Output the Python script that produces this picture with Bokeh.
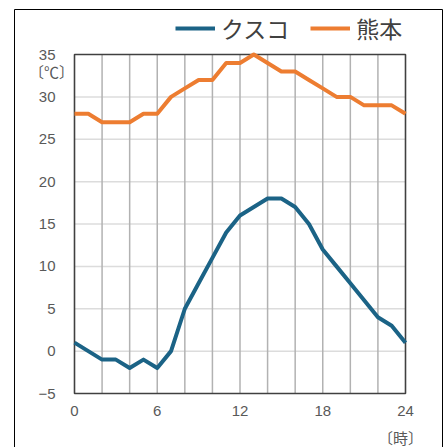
from bokeh.plotting import figure
from bokeh.models import Range1d, FixedTicker, Legend, LegendItem, Label
from bokeh.embed import file_html
from bokeh.resources import INLINE

# ---- data ----
hours = list(range(25))
cusco = [1, 0, -1, -1, -2, -1, -2, 0, 5, 8, 11, 14, 16, 17, 18, 18, 17, 15, 12, 10, 8, 6, 4, 3, 1]
kumamoto = [28, 28, 27, 27, 27, 28, 28, 30, 31, 32, 32, 34, 34, 35, 34, 33, 33, 32, 31, 30, 30, 29, 29, 29, 28]
series_names = ["クスコ", "熊本"]
x_ticks = [0, 6, 12, 18, 24]
x_grid = list(range(0, 25, 2))
y_ticks = [-5, 0, 5, 10, 15, 20, 25, 30, 35]
y_unit = "〔℃〕"
x_unit = "〔時〕"

# ---- layout (pixels) ----
W, H = 443, 447
PX_L, PX_R = 74, 405      # plot box left / right
PX_T, PX_B = 54, 393      # plot box top / bottom

x_min, x_max = x_ticks[0], x_ticks[-1]
y_min, y_max = y_ticks[0], y_ticks[-1]
kx = (x_max - x_min) / (PX_R - PX_L)
ky = (y_max - y_min) / (PX_B - PX_T)


def dx(px):
    return x_min + (px - PX_L) * kx


def dy(py):
    return y_min + (PX_B - py) * ky


BLUE = "#1b6386"
ORANGE = "#ed7d31"
CJK = "Noto Sans CJK JP"

p = figure(width=W, height=H, output_backend="svg", toolbar_location=None,
           x_range=Range1d(dx(0), dx(W)), y_range=Range1d(dy(H), dy(0)),
           min_border=0)
p.title.visible = False
p.outline_line_color = None
p.xgrid.visible = False
p.ygrid.visible = False

# outer frame (bottom edge lies below the page)
p.quad(left=[dx(14)], right=[dx(442)], bottom=[dy(H + 30)], top=[dy(9)],
       fill_color=None, line_color="#000000", line_width=1)

# grid lines inside the plot box
yg = [v for v in y_ticks if y_min < v < y_max]
xg = [v for v in x_grid if x_min < v < x_max]
p.segment(x0=[x_min] * len(yg), y0=yg, x1=[x_max] * len(yg), y1=yg,
          line_color="#dcdcdc", line_width=1.5)
p.segment(x0=xg, y0=[y_min] * len(xg), x1=xg, y1=[y_max] * len(xg),
          line_color="#b2b2b2", line_width=1.5)

# plot box
p.quad(left=[x_min], right=[x_max], bottom=[y_min], top=[y_max],
       fill_color=None, line_color="#404040", line_width=1.6)

r1 = p.line(hours, cusco, line_color=BLUE, line_width=4, line_join="round")
r2 = p.line(hours, kumamoto, line_color=ORANGE, line_width=4, line_join="round")

for ax in (p.xaxis[0], p.yaxis[0]):
    ax.axis_line_color = None
    ax.major_tick_line_color = None
    ax.minor_tick_line_color = None
    ax.major_tick_out = 0
    ax.major_tick_in = 0
    ax.minor_tick_out = 0
    ax.minor_tick_in = 0
    ax.major_label_text_color = "#595959"
    ax.major_label_text_font = "Liberation Sans"
    ax.major_label_text_font_size = "15px"

p.xaxis[0].ticker = FixedTicker(ticks=x_ticks)
p.xaxis[0].fixed_location = y_min
p.xaxis[0].major_label_standoff = 12
p.yaxis[0].ticker = FixedTicker(ticks=y_ticks)
p.yaxis[0].fixed_location = x_min
p.yaxis[0].major_label_standoff = 19

p.add_layout(Label(x=dx(51), y=dy(71), text=y_unit, text_font=CJK,
                   text_font_size="15px", text_color="#595959",
                   text_align="center", text_baseline="middle"))
p.add_layout(Label(x=dx(400), y=dy(437), text=x_unit, text_font=CJK,
                   text_font_size="15px", text_color="#595959",
                   text_align="center", text_baseline="middle"))

legend = Legend(items=[LegendItem(label=series_names[0], renderers=[r1]),
                       LegendItem(label=series_names[1], renderers=[r2])],
                orientation="horizontal", location=(175, H - 45),
                label_text_font=CJK, label_text_font_size="23px",
                label_text_color="#404040", glyph_width=40, glyph_height=34,
                label_height=34, label_standoff=6, spacing=21, padding=0, margin=0,
                background_fill_alpha=0, border_line_color=None)
p.add_layout(legend, "center")

open("out.html", "w").write(file_html(p, INLINE))
